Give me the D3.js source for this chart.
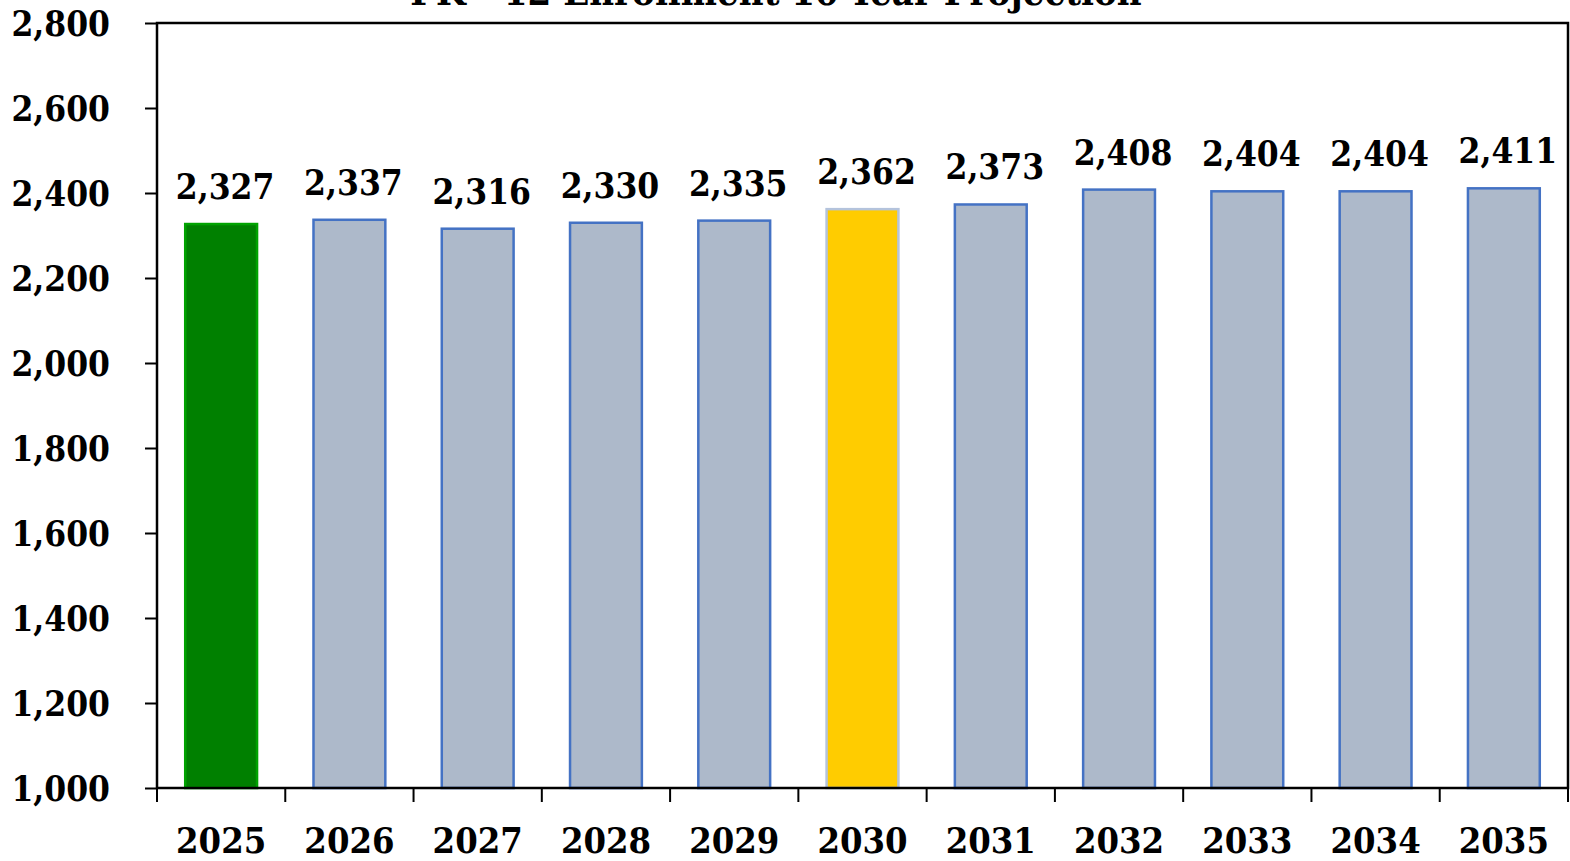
<!DOCTYPE html>
<html><head><meta charset="utf-8">
<script src="https://cdn.jsdelivr.net/npm/d3@7"></script>
<style>
html,body{margin:0;padding:0;background:#fff;overflow:hidden}
text{font-family:'DejaVu Serif Condensed','DejaVu Serif',serif;font-stretch:condensed;font-weight:bold;fill:#000}
</style></head>
<body><svg id="c" width="1570" height="861"></svg>
<script>
const title = "PK - 12 Enrollment 10-Year Projection";
const years = ["2025","2026","2027","2028","2029","2030","2031","2032","2033","2034","2035"];
const enrollment = [2327,2337,2316,2330,2335,2362,2373,2408,2404,2404,2411];
const yTicks = [1000,1200,1400,1600,1800,2000,2200,2400,2600,2800];
const barKind = ["actual","proj","proj","proj","proj","highlight","proj","proj","proj","proj","proj"];

const W=1570,H=861, L=157, R=1568, T=23, B=788;
const svg=d3.select("#c");
const x=d3.scaleBand().domain(years).range([L,R]).paddingInner(0.44).paddingOuter(0.22);
const y=d3.scaleLinear().domain([1000,2800]).range([B,T]);
const fills={actual:"#008000",proj:"#ADB9CA",highlight:"#FFCC00"};
const strokes={actual:"#00A300",proj:"#4472C4",highlight:"#B4C3DC"};

svg.append("text").attr("x",776).attr("y",5).attr("text-anchor","middle").style("font-size","38px").text(title);

// bars
svg.selectAll("rect.bar").data(years).enter().append("rect")
  .attr("x",d=>x(d)).attr("width",x.bandwidth())
  .attr("y",(d,i)=>y(enrollment[i])).attr("height",(d,i)=>B-y(enrollment[i]))
  .attr("fill",(d,i)=>fills[barKind[i]]).attr("stroke",(d,i)=>strokes[barKind[i]]).attr("stroke-width",2.5);

// value labels
svg.selectAll("text.lbl").data(years).enter().append("text")
  .attr("x",d=>x(d)+x.bandwidth()/2+4).attr("y",(d,i)=>y(enrollment[i])-25)
  .attr("text-anchor","middle").style("font-size","35px")
  .text((d,i)=>d3.format(",")(enrollment[i]));

// frame
svg.append("rect").attr("x",L).attr("y",T).attr("width",R-L).attr("height",B-T)
  .attr("fill","none").attr("stroke","#000").attr("stroke-width",2.5);

// y axis
const ya=svg.append("g").attr("transform",`translate(${L},0)`)
  .call(d3.axisLeft(y).tickValues(yTicks).tickFormat(d3.format(",")).tickSize(12).tickPadding(35));
ya.select(".domain").remove();
ya.selectAll("line").attr("stroke","#000").attr("stroke-width",2);
ya.selectAll("text").style("font-size","35px").attr("dy","0.35em");

// x axis
const xa=svg.append("g").attr("transform",`translate(0,${B})`)
  .call(d3.axisBottom(x).tickSize(0).tickPadding(39));
xa.select(".domain").remove();
xa.selectAll("text").style("font-size","36px").attr("dy","0.71em");
const step=x.step();
svg.selectAll("line.xt").data(d3.range(years.length+1)).enter().append("line")
  .attr("x1",i=>L+i*step).attr("x2",i=>L+i*step).attr("y1",B).attr("y2",B+14)
  .attr("stroke","#000").attr("stroke-width",2);
</script></body></html>
